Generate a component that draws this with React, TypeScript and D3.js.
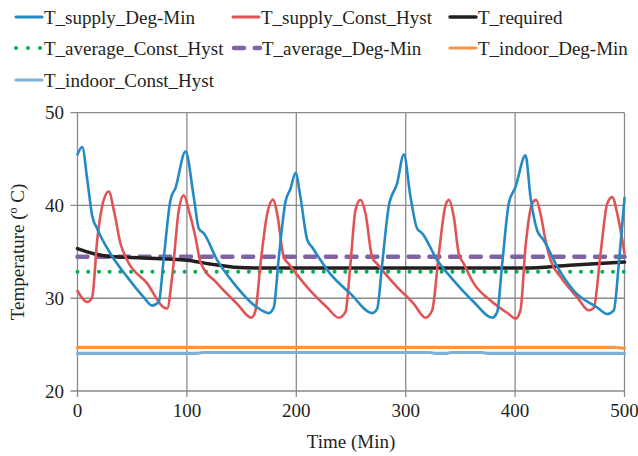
import React from "react";
import * as d3 from "d3";

type Pt = [number, number];

const xTicks = [0, 100, 200, 300, 400, 500];
const yTicks = [20, 30, 40, 50];

const supplyDegMin: Pt[] = [
  [0, 45.5], [4.3, 46.3], [8.9, 42.8], [13.4, 38.9], [18, 37.5], [30.2, 34.8], [45.4, 32.3],
  [60.6, 30.1], [68.3, 29.2], [74.3, 29.6], [78.9, 34.4], [85, 40.6], [89.6, 41.9], [98.7, 45.8],
  [106.3, 40.9], [110.9, 37.5], [115.4, 37.0], [127.7, 34.1], [142.9, 31.6], [158.1, 29.6],
  [164.3, 29.0], [174.9, 28.4], [179.4, 29.0], [184, 34.4], [190.1, 40.4], [194.7, 41.8],
  [199.3, 43.5], [203.8, 40.9], [210, 36.3], [214.5, 35.5], [231.3, 32.6], [249.5, 30.5],
  [269.4, 28.4], [273.9, 28.85], [278.5, 33.7], [284.5, 39.9], [292.2, 42.4], [298.3, 45.5],
  [304.4, 40.9], [310.5, 37.5], [315.1, 37.0], [328.8, 34.1], [341, 32.3], [362.2, 29.6],
  [379.1, 27.9], [383.6, 28.5], [388.2, 33.7], [394.2, 40.2], [400.4, 42.0], [409.5, 45.4],
  [414.1, 40.9], [420.2, 37.3], [426.2, 36.25], [438.5, 33.4], [453.7, 30.8], [475, 29.0],
  [484.2, 28.3], [490.2, 28.7], [494.8, 33.7], [500, 40.8],
];

const supplyConstHyst: Pt[] = [
  [0, 30.8], [8.9, 29.6], [13.4, 30.1], [18, 36.25], [24, 40.6], [28.6, 41.5], [33.2, 39.5],
  [39.3, 35.9], [45.4, 34.1], [63.7, 31.6], [78.9, 29.0], [82, 28.9], [86.5, 32.3], [92.6, 39.5],
  [97.2, 41.1], [101.7, 39.5], [107.8, 36.6], [112.4, 33.9], [127.7, 31.6], [145.9, 29.4],
  [159, 27.9], [162.7, 28.7], [167.3, 33.7], [173.4, 39.1], [178.9, 40.65], [182.5, 39.1],
  [188.6, 34.4], [193.1, 33.7], [209.9, 31.2], [228.2, 29.0], [238.8, 27.9], [244.9, 28.5],
  [249.5, 33.7], [254.1, 39.5], [258.7, 40.6], [263.3, 39.1], [269.4, 34.4], [273.9, 33.7],
  [292.2, 31.2], [307.4, 29.4], [318.1, 27.9], [324.2, 28.7], [330.3, 34.8], [336.4, 40.0],
  [339.4, 40.6], [343.9, 38.8], [348.5, 34.8], [353.1, 33.7], [362.2, 31.6], [377.5, 29.75],
  [394.2, 28.3], [400.4, 27.8], [404.9, 28.7], [409.5, 35.5], [415.6, 40.2], [419.3, 40.6],
  [423.2, 39.1], [427.8, 36.25], [432.4, 34.1], [441.5, 32.3], [456.8, 30.1], [467.4, 28.7],
  [472, 29.0], [478.1, 34.8], [484.2, 40.2], [488.8, 40.9], [493.4, 39.1], [498, 36.25],
  [500, 34.8],
];

const required: Pt[] = [
  [0, 35.35], [15, 34.8], [30, 34.5], [60, 34.35], [100, 34.1], [121, 33.7], [143, 33.35],
  [167, 33.25], [300, 33.25], [408, 33.25], [450, 33.55], [500, 33.9],
];

const averageConstHyst: Pt[] = [[0, 32.85], [500, 32.85]];
const averageDegMin: Pt[] = [[0, 34.47], [500, 34.47]];
const indoorDegMin: Pt[] = [[0, 24.7], [490, 24.7], [496, 24.65], [500, 24.6]];
const indoorConstHyst: Pt[] = [
  [0, 24.05], [108, 24.05], [115, 24.15], [322, 24.15], [328, 24.05], [336, 24.05],
  [342, 24.15], [370, 24.15], [376, 24.05], [500, 24.05],
];

const legendLabels = [
  "T_supply_Deg-Min",
  "T_supply_Const_Hyst",
  "T_required",
  "T_average_Const_Hyst",
  "T_average_Deg-Min",
  "T_indoor_Deg-Min",
  "T_indoor_Const_Hyst",
];

const C_BLUE = "#238ac3";
const C_RED = "#e05456";
const C_BLACK = "#231f20";
const C_GREEN = "#00b050";
const C_PURPLE = "#8064a2";
const C_ORANGE = "#f79646";
const C_LBLUE = "#7fb0d8";
const GRID = "#8a8a8a";
const TC = "#231f20";

function Txt(props: any) {
  const { children, ...rest } = props;
  return (
    <text fontFamily="Liberation Serif" fontSize={19} fill={TC} {...rest}>
      {children}
    </text>
  );
}

export default function App() {
  const x = d3.scaleLinear().domain([0, 500]).range([77.5, 624.5]);
  const y = d3.scaleLinear().domain([20, 50]).range([391, 112.7]);
  const line = d3
    .line<Pt>()
    .x((d) => x(d[0]))
    .y((d) => y(d[1]))
    .curve(d3.curveMonotoneX);

  const series = [
    { data: indoorConstHyst, color: C_LBLUE, w: 3.2 },
    { data: indoorDegMin, color: C_ORANGE, w: 3.2 },
    { data: averageConstHyst, color: C_GREEN, w: 4, dash: "0.01 10.7" },
    { data: averageDegMin, color: C_PURPLE, w: 4.5, dash: "10 10.7" },
    { data: required, color: C_BLACK, w: 3.5 },
    { data: supplyConstHyst, color: C_RED, w: 2.6 },
    { data: supplyDegMin, color: C_BLUE, w: 2.6 },
  ];

  const legendStyle = [
    { color: C_BLUE, w: 3, x0: 16, row: 0 },
    { color: C_RED, w: 3, x0: 233, row: 0 },
    { color: C_BLACK, w: 3.5, x0: 450, row: 0 },
    { color: C_GREEN, w: 4, x0: 16, row: 1, dash: "0.01 12" },
    { color: C_PURPLE, w: 4.5, x0: 234, row: 1, dash: "10 10.7" },
    { color: C_ORANGE, w: 3.2, x0: 450, row: 1 },
    { color: C_LBLUE, w: 3.2, x0: 16, row: 2 },
  ];
  const rowY = [17, 48, 80];

  return (
    <svg width={638} height={456} fontFamily="Liberation Serif" style={{ position: "absolute", left: 0, top: 0, background: "#fff" }}>
      <rect width={638} height={456} fill="#fff" />
      {xTicks.map((t) => (
        <line key={"gx" + t} x1={x(t)} x2={x(t)} y1={y(50)} y2={y(20) + 6} stroke={GRID} strokeWidth={1.3} />
      ))}
      {yTicks.map((t) => (
        <line key={"gy" + t} x1={x(0) - 7} x2={x(500)} y1={y(t)} y2={y(t)} stroke={GRID} strokeWidth={1.3} />
      ))}
      {yTicks.map((t) => (
        <Txt key={"ly" + t} x={64} y={y(t) + 6.5} textAnchor="end">
          {String(t)}
        </Txt>
      ))}
      {xTicks.map((t) => (
        <Txt key={"lx" + t} x={x(t)} y={417} textAnchor="middle">
          {String(t)}
        </Txt>
      ))}
      <Txt x={351} y={448} textAnchor="middle">Time (Min)</Txt>
      <Txt transform="translate(24, 252) rotate(-90)" textAnchor="middle">
        Temperature (<tspan fontSize={12} dy={-7}>o</tspan><tspan dy={7}> C)</tspan>
      </Txt>
      {series.map((s, i) => (
        <path
          key={"s" + i}
          d={line(s.data) || ""}
          fill="none"
          stroke={s.color}
          strokeWidth={s.w}
          strokeDasharray={s.dash}
          strokeLinecap="round"
          strokeLinejoin="round"
        />
      ))}
      {legendStyle.map((l, i) => (
        <g key={"lg" + i}>
          <line
            x1={l.x0}
            x2={l.x0 + 26}
            y1={rowY[l.row]}
            y2={rowY[l.row]}
            stroke={l.color}
            strokeWidth={l.w}
            strokeDasharray={l.dash}
            strokeLinecap="round"
          />
          <Txt x={l.x0 + 28} y={rowY[l.row] + 6.5}>{legendLabels[i]}</Txt>
        </g>
      ))}
    </svg>
  );
}
